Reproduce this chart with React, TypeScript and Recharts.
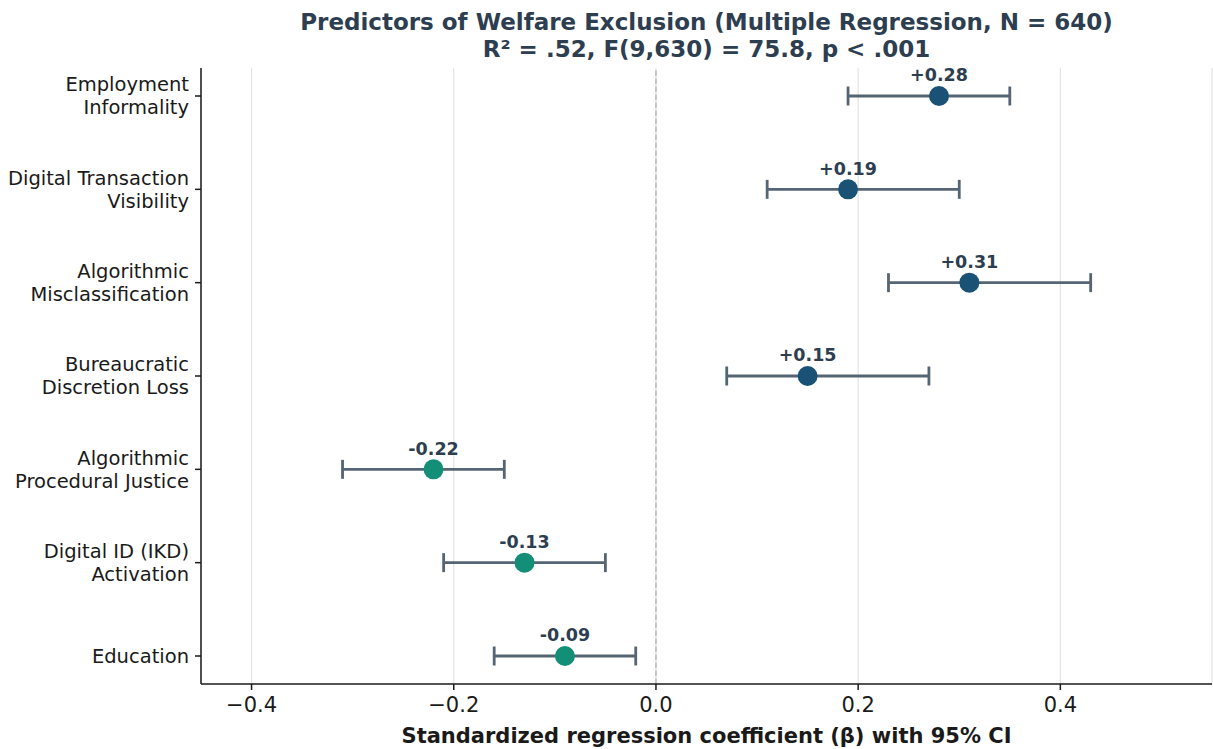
import React from 'react';
import {
  ScatterChart, Scatter, XAxis, YAxis, ZAxis, CartesianGrid, ErrorBar,
  ReferenceLine, LabelList, Cell,
} from 'recharts';

const predictors = [
  'Employment\nInformality',
  'Digital Transaction\nVisibility',
  'Algorithmic\nMisclassification',
  'Bureaucratic\nDiscretion Loss',
  'Algorithmic\nProcedural Justice',
  'Digital ID (IKD)\nActivation',
  'Education',
];
const coefficients = [0.28, 0.19, 0.31, 0.15, -0.22, -0.13, -0.09];
const ciLower = [0.19, 0.11, 0.23, 0.07, -0.31, -0.21, -0.16];
const ciUpper = [0.35, 0.30, 0.43, 0.27, -0.15, -0.05, -0.02];
const xTicks = [-0.4, -0.2, 0, 0.2, 0.4];

const FONT = '"DejaVu Sans", sans-serif';
const POS = '#1a5276';
const NEG = '#148f77';

const data = coefficients.map((b, i) => ({
  idx: i,
  beta: b,
  err: [+(b - ciLower[i]).toFixed(3), +(ciUpper[i] - b).toFixed(3)],
  label: (b > 0 ? '+' : '') + b.toFixed(2),
  color: b > 0 ? POS : NEG,
}));

const fmtX = (v: number) => (v < 0 ? '\u2212' + Math.abs(v).toFixed(1) : v.toFixed(1));

const PredictorTick = (props: any) => {
  const { x, y, payload } = props;
  const lines = predictors[payload.value].split('\n');
  const start = -((lines.length - 1) * 23) / 2;
  return (
    <text x={x} y={y} textAnchor="end" fontFamily={FONT} fontSize={19.5} fill="#1a1a1a">
      {lines.map((l, i) => (
        <tspan key={i} x={x} y={y + start + i * 23} dy="0.35em">{l}</tspan>
      ))}
    </text>
  );
};

const Dot = (props: any) => (
  <circle cx={props.cx} cy={props.cy} r={10} fill={props.payload.color} />
);

export default function App() {
  return (
    <div style={{ position: 'absolute', left: 0, top: 0, width: 1213, height: 749, background: '#fff' }}>
      <div style={{
        position: 'absolute', left: 201, width: 1011, top: 9, textAlign: 'center',
        fontFamily: FONT, fontWeight: 'bold', fontSize: 23, lineHeight: '27px', color: '#2c3e50',
      }}>
        Predictors of Welfare Exclusion (Multiple Regression, N = 640)<br />
        R² = .52, F(9,630) = 75.8, p &lt; .001
      </div>
      <ScatterChart width={1213} height={749} margin={{ top: 68, right: 1, bottom: 0, left: 0 }}>
        <CartesianGrid horizontal={false} stroke="#e3e3e3" strokeWidth={1.2} />
        <XAxis
          type="number" dataKey="beta" domain={[-0.45, 0.55]} ticks={xTicks} tickFormatter={fmtX}
          height={65} tickMargin={7} stroke="#1a1a1a" strokeWidth={1.5}
          tick={{ fill: '#1a1a1a', fontSize: 21, fontFamily: FONT }}
          label={{ value: 'Standardized regression coefficient (\u03b2) with 95% CI', position: 'insideBottom', offset: 6, fill: '#1a1a1a', fontSize: 21, fontWeight: 'bold', fontFamily: FONT }}
        />
        <YAxis
          type="number" dataKey="idx" domain={[-0.3, 6.3]} reversed ticks={[0, 1, 2, 3, 4, 5, 6]}
          width={201} tickMargin={6} stroke="#1a1a1a" strokeWidth={1.5} tick={<PredictorTick />}
          interval={0}
        />
        <ZAxis range={[314, 314]} />
        <ReferenceLine x={0} stroke="#b8b8b8" strokeDasharray="5.5 2.5" strokeWidth={1.5} />
        <Scatter data={data} shape={<Dot />} isAnimationActive={false}>
          {data.map((d, i) => <Cell key={i} fill={d.color} />)}
          <ErrorBar dataKey="err" direction="x" width={9.5} stroke="#566573" strokeWidth={2.8} />
          <LabelList dataKey="label" position="top" offset={10} fill="#2c3e50" fontSize={17.5} fontWeight="bold" fontFamily={FONT} />
        </Scatter>
      </ScatterChart>
    </div>
  );
}
